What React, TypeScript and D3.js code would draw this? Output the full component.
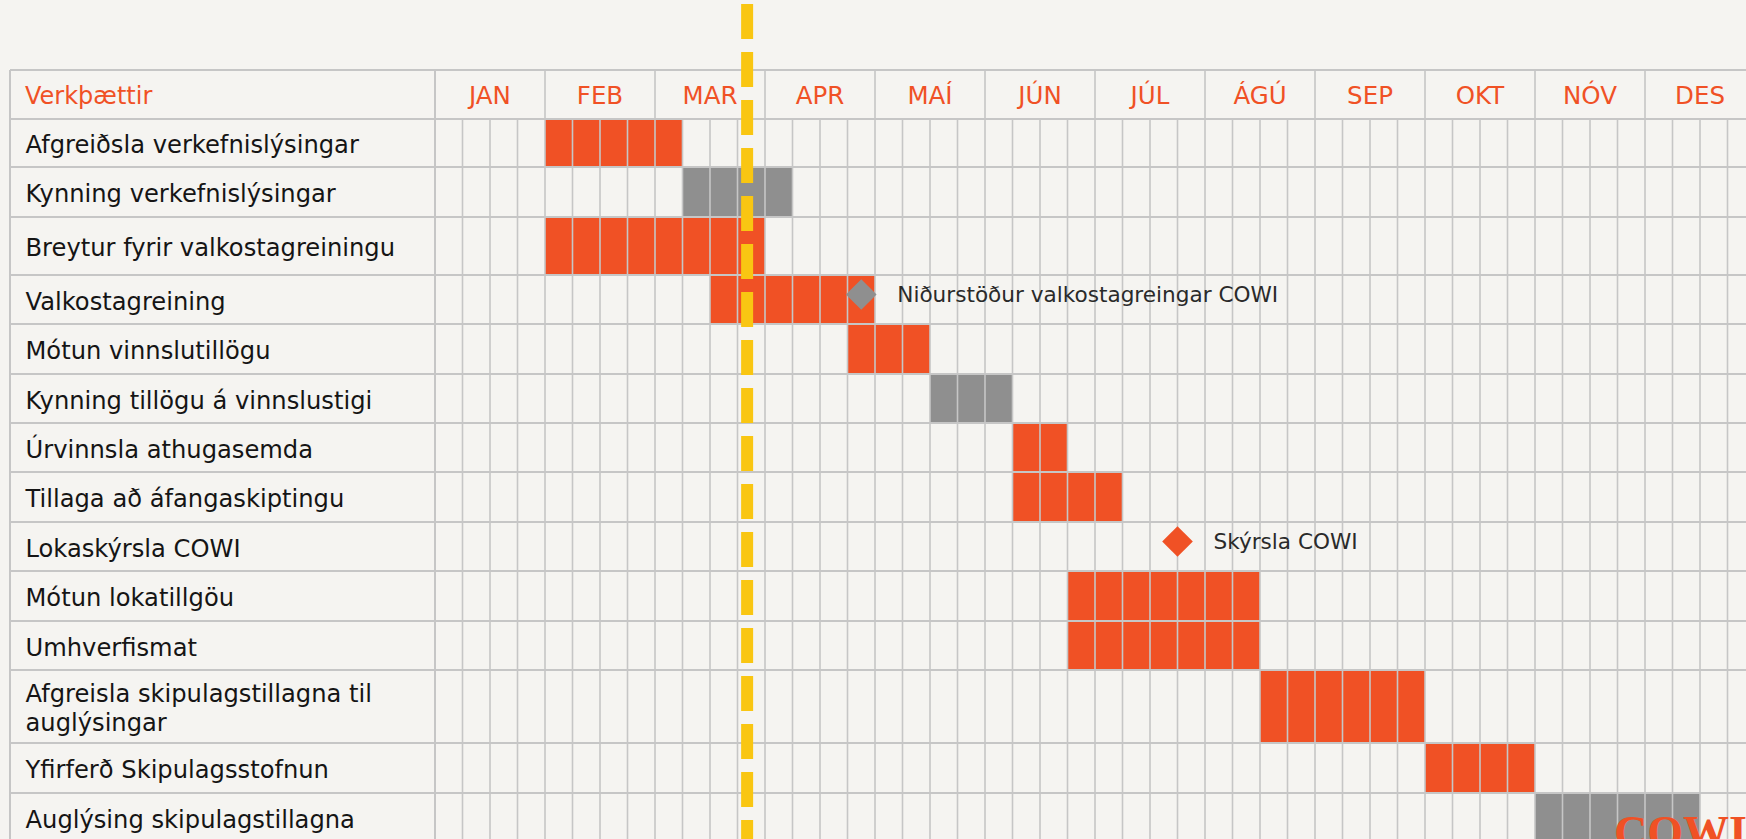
import React from 'react';
import * as d3 from 'd3';

// month columns (4 weeks each)
const months = ['JAN', 'FEB', 'MAR', 'APR', 'MAÍ', 'JÚN', 'JÚL', 'ÁGÚ', 'SEP', 'OKT', 'NÓV', 'DES'];
const weeksPerMonth = 4;
const headerLabel = 'Verkþættir';

const tasks = [
  'Afgreiðsla verkefnislýsingar',
  'Kynning verkefnislýsingar',
  'Breytur fyrir valkostagreiningu',
  'Valkostagreining',
  'Mótun vinnslutillögu',
  'Kynning tillögu á vinnslustigi',
  'Úrvinnsla athugasemda',
  'Tillaga að áfangaskiptingu',
  'Lokaskýrsla COWI',
  'Mótun lokatillgöu',
  'Umhverfismat',
  'Afgreisla skipulagstillagna til\nauglýsingar',
  'Yfirferð Skipulagsstofnun',
  'Auglýsing skipulagstillagna',
];

// first week index and number of weeks per task (0 = no bar)
const barStart = [4, 9, 4, 10, 15, 18, 21, 21, 0, 23, 23, 30, 36, 40];
const barWeeks = [5, 4, 8, 6, 3, 3, 2, 4, 0, 7, 7, 6, 4, 6];
const barKind = ['o', 'g', 'o', 'o', 'o', 'g', 'o', 'o', '', 'o', 'o', 'o', 'o', 'g'];

// milestones
const milestoneRow = [3, 8];
const milestoneWeek = [15.5, 27];
const milestoneKind = ['g', 'o'];
const milestoneLabel = ['Niðurstöður valkostagreingar COWI', 'Skýrsla COWI'];

// "today" marker, in weeks
const todayWeek = 11.35;

// layout
const W = 1746;
const H = 839;
const rowHeights = [48, 50, 58, 49, 50, 49, 49, 50, 49, 50, 49, 73, 50, 50];
const ORANGE = '#F05125';
const GRAY = '#8F8F8F';
const GRID = '#C6C6C6';
const FONT = "'DejaVu Sans', Verdana, sans-serif";

const App = () => {
  const svgRef = React.useRef<SVGSVGElement>(null);

  React.useEffect(() => {
    const svg = d3.select(svgRef.current);
    svg.selectAll('*').remove();

    const left = 10;
    const labelRight = 435;
    const top = 70;
    const headerH = 49;
    const nWeeks = months.length * weeksPerMonth;

    const x = d3.scaleLinear().domain([0, nWeeks]).range([labelRight, labelRight + 110 * months.length]);
    const bodyTop = top + headerH;
    const rowTop = [bodyTop, ...Array.from(d3.cumsum(rowHeights)).map((s) => bodyTop + s)];
    const rowMid = (i: number) => rowTop[i] + rowHeights[i] / 2;
    const bottom = rowTop[rowTop.length - 1];

    svg.append('rect').attr('width', W).attr('height', H).attr('fill', '#F5F4F1');

    // bars, one cell per week
    const cells: { row: number; week: number; kind: string }[] = [];
    tasks.forEach((_, i) => {
      d3.range(barStart[i], barStart[i] + barWeeks[i]).forEach((w) => cells.push({ row: i, week: w, kind: barKind[i] }));
    });
    svg
      .append('g')
      .selectAll('rect')
      .data(cells)
      .enter()
      .append('rect')
      .attr('x', (d) => x(d.week))
      .attr('y', (d) => rowTop[d.row])
      .attr('width', (d) => x(d.week + 1) - x(d.week))
      .attr('height', (d) => rowHeights[d.row])
      .attr('fill', (d) => (d.kind === 'g' ? GRAY : ORANGE));

    // grid
    const grid = svg.append('g').attr('stroke', GRID);
    grid
      .selectAll('line.week')
      .data(d3.range(0, nWeeks + 1))
      .enter()
      .append('line')
      .attr('x1', (w) => x(w))
      .attr('x2', (w) => x(w))
      .attr('y1', (w) => (w % weeksPerMonth === 0 ? top : bodyTop))
      .attr('y2', bottom + 20)
      .attr('stroke-width', 1.6);
    grid
      .selectAll('line.col')
      .data([left, labelRight])
      .enter()
      .append('line')
      .attr('x1', (d) => d)
      .attr('x2', (d) => d)
      .attr('y1', top)
      .attr('y2', bottom + 20)
      .attr('stroke-width', 2);
    grid
      .selectAll('line.row')
      .data([top, ...rowTop])
      .enter()
      .append('line')
      .attr('x1', left)
      .attr('x2', x(nWeeks))
      .attr('y1', (d) => d)
      .attr('y2', (d) => d)
      .attr('stroke-width', 2.2);

    // header texts
    svg
      .append('text')
      .attr('x', 25)
      .attr('y', top + headerH / 2)
      .attr('dy', '0.38em')
      .attr('fill', ORANGE)
      .attr('font-family', FONT)
      .attr('font-size', 24)
      .text(headerLabel);
    svg
      .append('g')
      .selectAll('text')
      .data(months)
      .enter()
      .append('text')
      .attr('x', (_, i) => (x(i * weeksPerMonth) + x((i + 1) * weeksPerMonth)) / 2)
      .attr('y', top + headerH / 2)
      .attr('dy', '0.38em')
      .attr('text-anchor', 'middle')
      .attr('fill', ORANGE)
      .attr('font-family', FONT)
      .attr('font-size', 24.5)
      .text((d) => d);

    // task labels
    const labels = svg
      .append('g')
      .selectAll('text')
      .data(tasks)
      .enter()
      .append('text')
      .attr('fill', '#151515')
      .attr('font-family', FONT)
      .attr('font-size', 24.2);
    labels.each(function (d, i) {
      const lines = d.split('\n');
      const lh = 29;
      const y0 = rowMid(i) - ((lines.length - 1) * lh) / 2;
      d3.select(this)
        .selectAll('tspan')
        .data(lines)
        .enter()
        .append('tspan')
        .attr('x', 25.5)
        .attr('y', (_, k) => y0 + k * lh)
        .attr('dy', '0.42em')
        .text((t) => t);
    });

    // milestones
    const ms = svg
      .append('g')
      .selectAll('g')
      .data(milestoneRow)
      .enter()
      .append('g')
      .attr('transform', (r, i) => `translate(${x(milestoneWeek[i])},${rowMid(r) - 5})`);
    ms.append('path')
      .attr('d', d3.symbol().type(d3.symbolSquare).size(470)() as string)
      .attr('transform', 'rotate(45)')
      .attr('fill', (_, i) => (milestoneKind[i] === 'g' ? GRAY : ORANGE));
    ms.append('text')
      .attr('x', 36)
      .attr('dy', '0.36em')
      .attr('fill', '#2a2a2a')
      .attr('font-family', FONT)
      .attr('font-size', 21.6)
      .text((_, i) => milestoneLabel[i]);

    // today marker
    svg
      .append('line')
      .attr('x1', x(todayWeek))
      .attr('x2', x(todayWeek))
      .attr('y1', 4)
      .attr('y2', H)
      .attr('stroke', '#F9C612')
      .attr('stroke-width', 12)
      .attr('stroke-dasharray', '35 13');

    // logo (cut off at the bottom edge)
    svg
      .append('text')
      .attr('x', 1614)
      .attr('y', 848)
      .attr('fill', ORANGE)
      .attr('font-family', "'Liberation Serif', serif")
      .attr('font-weight', 'bold')
      .attr('font-size', 46)
      .text('COWI');
  }, []);

  return (
    <div style={{ position: 'absolute', left: 0, top: 0, width: W, height: H, overflow: 'hidden' }}>
      <svg ref={svgRef} width={W} height={H} style={{ display: 'block' }} />
    </div>
  );
};

export default App;
